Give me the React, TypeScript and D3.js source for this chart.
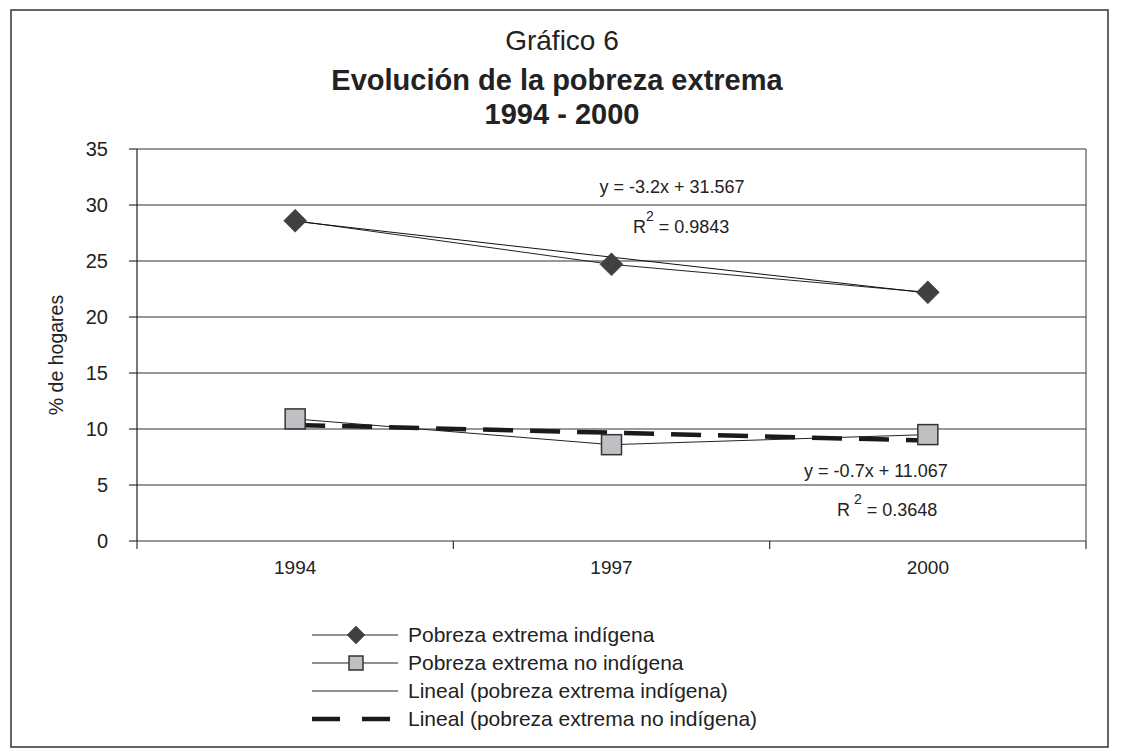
import React from "react";
import * as d3 from "d3";

const years = ["1994", "1997", "2000"];
const indigena = [28.6, 24.7, 22.2];
const noIndigena = [10.9, 8.6, 9.5];
const yTicks = [0, 5, 10, 15, 20, 25, 30, 35];
const legendLabels = [
  "Pobreza extrema indígena",
  "Pobreza extrema no indígena",
  "Lineal (pobreza extrema indígena)",
  "Lineal (pobreza extrema no indígena)",
];

function linFit(vals: number[]) {
  const xs = vals.map((_, i) => i + 1);
  const mx = d3.mean(xs)!;
  const my = d3.mean(vals)!;
  let sxy = 0, sxx = 0;
  xs.forEach((x, i) => { sxy += (x - mx) * (vals[i] - my); sxx += (x - mx) ** 2; });
  const m = sxy / sxx;
  const b = my - m * mx;
  return { m, b };
}

export default function App() {
  const W = 1124, H = 752;
  const L = 137, R = 1086, T = 149, B = 541;
  const x = d3.scaleBand<string>().domain(years).range([L, R]);
  const cx = (i: number) => x(years[i])! + x.bandwidth() / 2;
  const y = d3.scaleLinear().domain([0, 35]).range([B, T]);
  const font = "Arial, 'Liberation Sans', sans-serif";
  const line = d3.line<number>().x((_, i) => cx(i)).y((d) => y(d));

  const f1 = linFit(indigena);
  const f2 = linFit(noIndigena);
  const trend = (f: { m: number; b: number }) =>
    d3.line<number>().x((d) => cx(d - 1)).y((d) => y(f.m * d + f.b))([1, 2, 3])!;

  const diamond = (px: number, py: number, k: number, s = 11.5) => (
    <path key={k} d={`M${px},${py - s}L${px + s},${py}L${px},${py + s}L${px - s},${py}Z`} fill="#404040" stroke="#333" strokeWidth={0.5} />
  );
  const square = (px: number, py: number, k: number, s = 10) => (
    <rect key={k} x={px - s} y={py - s} width={2 * s} height={2 * s} fill="#c0c0c4" stroke="#333" strokeWidth={1.5} />
  );

  const legY = [635, 663, 691, 719];

  return (
    <svg width={W} height={H} style={{ display: "block", position: "absolute", left: 0, top: 0 }} fontFamily={font}>
      <rect x={0} y={0} width={W} height={H} fill="#fff" />
      <rect x={11} y={10} width={1097} height={737} fill="none" stroke="#333" strokeWidth={1.5} />

      <text x={562} y={50} textAnchor="middle" fontSize={28} fill="#222">Gráfico 6</text>
      <text x={557} y={90} textAnchor="middle" fontSize={29} fontWeight="bold" fill="#222">Evolución de la pobreza extrema</text>
      <text x={562} y={124} textAnchor="middle" fontSize={29} fontWeight="bold" fill="#222">1994 - 2000</text>

      {yTicks.map((t) => (
        <g key={t}>
          <line x1={L} x2={R} y1={y(t)} y2={y(t)} stroke="#333" strokeWidth={1.2} />
          <line x1={L - 8} x2={L} y1={y(t)} y2={y(t)} stroke="#333" strokeWidth={1.2} />
          <text x={108} y={y(t) + 7} textAnchor="end" fontSize={20} fill="#222">{t}</text>
        </g>
      ))}
      <line x1={L} x2={L} y1={T} y2={B} stroke="#222" strokeWidth={1.2} />
      <line x1={R} x2={R} y1={T} y2={B} stroke="#555" strokeWidth={1.2} />
      {d3.range(years.length + 1).map((i) => {
        const xx = L + i * x.bandwidth();
        return <line key={i} x1={xx} x2={xx} y1={B} y2={B + 8} stroke="#333" strokeWidth={1.2} />;
      })}
      {years.map((yr, i) => (
        <text key={yr} x={cx(i)} y={574} textAnchor="middle" fontSize={19} fill="#222">{yr}</text>
      ))}
      <text transform={`translate(63,355) rotate(-90)`} textAnchor="middle" fontSize={19.5} fill="#222">% de hogares</text>

      <path d={line(indigena)!} fill="none" stroke="#222" strokeWidth={1} />
      <path d={line(noIndigena)!} fill="none" stroke="#222" strokeWidth={1} />
      <path d={trend(f1)} fill="none" stroke="#111" strokeWidth={1} transform="translate(0,-2)" />
      <path d={trend(f2)} fill="none" stroke="#1a1a1a" strokeWidth={4.5} strokeDasharray="30 17" />

      {indigena.map((v, i) => diamond(cx(i), y(v), i))}
      {noIndigena.map((v, i) => square(cx(i), y(v), i))}

      <text x={672} y={193} textAnchor="middle" fontSize={18} fill="#222">y = -3.2x + 31.567</text>
      <text x={633} y={233} fontSize={18} fill="#222">R<tspan dy={-12} fontSize={14}>2</tspan><tspan dy={12}>{"  = 0.9843"}</tspan></text>
      <text x={876} y={477} textAnchor="middle" fontSize={18} fill="#222">y = -0.7x + 11.067</text>
      <text x={837} y={516} fontSize={18} fill="#222">R<tspan dy={-12} fontSize={14}>{" 2"}</tspan><tspan dy={12}>{" = 0.3648"}</tspan></text>

      {legendLabels.map((lab, i) => (
        <g key={lab}>
          {i < 3 && <line x1={312} x2={398} y1={legY[i]} y2={legY[i]} stroke="#222" strokeWidth={1} />}
          {i === 3 && <line x1={312} x2={398} y1={legY[i]} y2={legY[i]} stroke="#1a1a1a" strokeWidth={4.5} strokeDasharray="28 22" />}
          {i === 0 && diamond(356, legY[i], 100, 9)}
          {i === 1 && square(356, legY[i], 101, 7)}
          <text x={408} y={legY[i] + 7} fontSize={21} fill="#222">{lab}</text>
        </g>
      ))}
    </svg>
  );
}
